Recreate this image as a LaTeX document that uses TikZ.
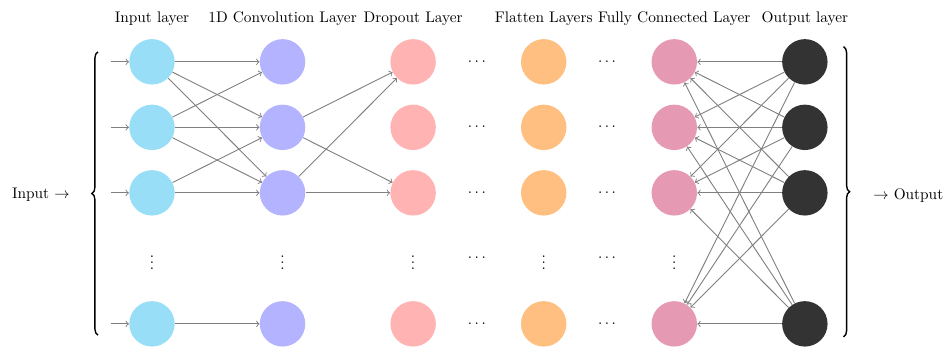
\documentclass[tikz,border=0pt]{standalone}
\usetikzlibrary{decorations.pathreplacing}
\definecolor{incol}{RGB}{153,222,247}
\definecolor{convcol}{RGB}{179,179,255}
\definecolor{dropcol}{RGB}{255,179,179}
\definecolor{flatcol}{RGB}{255,191,128}
\definecolor{fccol}{RGB}{230,153,179}
\definecolor{outcol}{RGB}{51,51,51}
\begin{document}
\begin{tikzpicture}[
  neuron/.style={circle, minimum size=1.04cm, inner sep=0pt},
  conn/.style={->, draw=gray, line width=0.6pt},
  lab/.style={anchor=base, inner sep=0pt},
  dotsnode/.style={inner sep=0pt},
  bracestyle/.style={decorate, decoration={brace, amplitude=4pt}, line width=0.9pt}
]
\useasboundingbox (0,0) rectangle (21.685,7.946);

% layer labels
\node[lab] (LI) at (3.48,7.43) {Input layer};
\node[lab] (LC) at (6.47,7.43) {1D Convolution Layer};
\node[lab] (LD) at (9.46,7.43) {Dropout Layer};
\node[lab] (LF) at (12.45,7.43) {Flatten Layers};
\node[lab] (LFC) at (15.44,7.43) {Fully Connected Layer};
\node[lab] (LO) at (18.43,7.43) {Output layer};

% neurons
\foreach \r/\y in {1/6.53,2/5.03,3/3.53,5/0.53} {
  \node[neuron, fill=incol] (I\r) at (3.48,\y) {};
  \node[neuron, fill=convcol] (C\r) at (6.47,\y) {};
  \node[neuron, fill=dropcol] (D\r) at (9.46,\y) {};
  \node[neuron, fill=flatcol] (F\r) at (12.45,\y) {};
  \node[neuron, fill=fccol] (FC\r) at (15.44,\y) {};
  \node[neuron, fill=outcol] (O\r) at (18.43,\y) {};
  \coordinate (S\r) at (2.535,\y);
  \draw[conn] (S\r) -- (I\r);
}

% vertical dots
\foreach \n/\x in {VI/3.48,VC/6.47,VD/9.46,VF/12.45,VFC/15.44} {
  \node[dotsnode] (\n) at (\x,2.03) {$\vdots$};
}
% horizontal dots
\foreach \r/\y in {1/6.53,2/5.03,3/3.53,4/2.03,5/0.53} {
  \node[dotsnode] (HA\r) at (10.92,\y) {$\cdots$};
  \node[dotsnode] (HB\r) at (13.90,\y) {$\cdots$};
}

% input -> conv
\foreach \a/\b in {1/1,1/2,1/3,2/1,2/2,2/3,3/2,3/3,5/5} {
  \draw[conn] (I\a) -- (C\b);
}
% conv -> dropout
\foreach \a/\b in {2/1,2/3,3/1,3/3} {
  \draw[conn] (C\a) -- (D\b);
}
% output -> fully connected
\foreach \a in {1,2,3,5} {
  \foreach \b in {1,2,3,5} {
    \draw[conn] (O\a) -- (FC\b);
  }
}

% braces
\coordinate (LB1) at (2.244,0.27);
\coordinate (LB2) at (2.244,6.76);
\draw[bracestyle] (LB1) -- (LB2);
\coordinate (RB1) at (19.315,6.88);
\coordinate (RB2) at (19.315,0.23);
\draw[bracestyle] (RB1) -- (RB2);

% input / output text
\node[anchor=base west, inner sep=0pt] (IN) at (0.27,3.39) {Input $\rightarrow$};
\node[anchor=base west, inner sep=0pt] (OUT) at (19.99,3.38) {$\rightarrow$ Output};
\end{tikzpicture}
\end{document}
